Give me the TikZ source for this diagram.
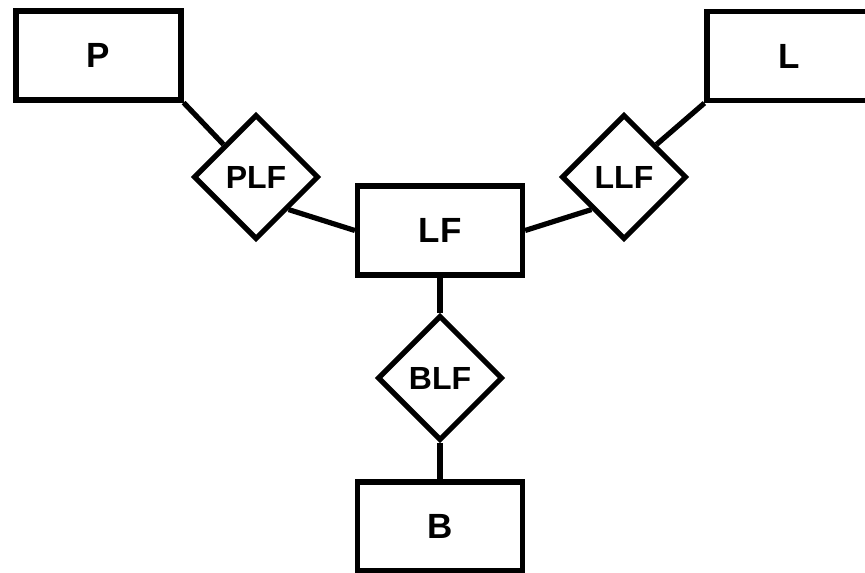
\documentclass[tikz,border=0pt]{standalone}
\usepackage{fontspec}
\setmainfont{Liberation Sans}
\usepackage{tikz}
\usetikzlibrary{shapes.geometric}

\begin{document}
\begin{tikzpicture}[x=0.5pt, y=-0.5pt, line width=2.6pt]
\useasboundingbox (0,0) rectangle (865,572);
\tikzstyle{entity} = [draw, rectangle, minimum width=82.5pt, minimum height=44.5pt, inner sep=0pt, font=\fontsize{17.5}{20}\selectfont\bfseries]
\tikzstyle{rel} = [draw, diamond, aspect=1, minimum size=62.5pt, inner sep=0pt, font=\fontsize{16}{19}\selectfont\bfseries]
% entity sets
\node[entity] (P) at (98.5,55.5) {P};
\node[entity] (L) at (789.5,56) {L};
\node[entity] (LF) at (440,230.5) {LF};
\node[entity] (B) at (440,526.5) {B};
% relationships
\node[rel] (PLF) at (256,177) {PLF};
\node[rel] (LLF) at (624,177) {LLF};
\node[rel] (BLF) at (440,378) {BLF};
\draw (P.south east) -- (PLF.north west);
\draw (PLF.south east) -- (LF.west);
\draw (LF.east) -- (LLF.south west);
\draw (LLF.north east) -- (L.south west);
\draw (LF.south) -- (BLF.north);
\draw (BLF.south) -- (B.north);
\end{tikzpicture}
\end{document}
